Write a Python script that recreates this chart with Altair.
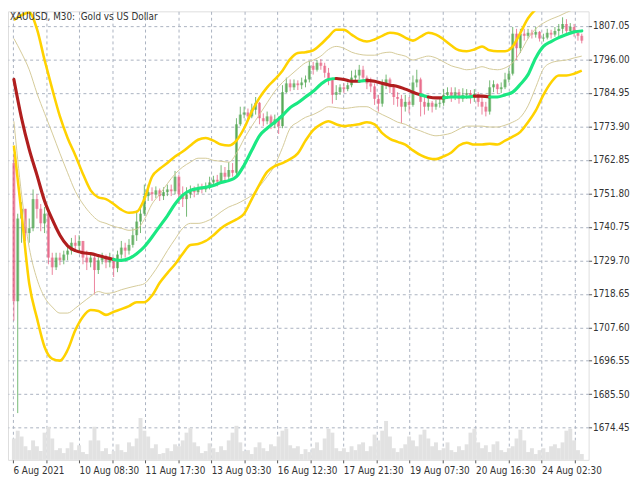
import json
import altair as alt
import pandas as pd

FONT = "'Liberation Sans Narrow', 'DejaVu Sans Condensed', 'Liberation Sans', sans-serif"
SYMBOL_TITLE = "XAUUSD, M30:\u00a0 Gold vs US Dollar"

# ---- candles (each drawn candle = 4 M30 bars), prices in USD ----
first_open = 1761.8
close = [1716.2, 1743.5, 1746.7, 1738.7, 1740.3, 1749.9, 1746.7, 1741.9, 1745.1, 1730.6,
         1727.4, 1730.6, 1729.7, 1731.6, 1732.9, 1735.5, 1734.5, 1736.1, 1730.6, 1729.0,
         1730.6, 1726.5, 1729.7, 1730.6, 1729.0, 1730.0, 1727.1, 1731.6, 1733.9, 1732.9,
         1734.8, 1738.0, 1742.5, 1745.1, 1750.9, 1752.2, 1751.5, 1752.8, 1750.9, 1752.2,
         1753.1, 1752.5, 1757.3, 1751.5, 1749.9, 1751.5, 1752.8, 1752.2, 1753.8, 1753.1,
         1754.1, 1755.4, 1756.3, 1755.7, 1758.6, 1757.3, 1759.5, 1758.6, 1774.6, 1777.8,
         1778.5, 1777.2, 1779.4, 1781.7, 1776.6, 1775.6, 1777.2, 1774.6, 1776.2, 1774.0,
         1785.2, 1788.1, 1786.8, 1788.1, 1787.5, 1788.4, 1789.4, 1793.9, 1792.6, 1794.9,
         1793.9, 1791.6, 1789.4, 1784.3, 1785.2, 1786.8, 1786.2, 1787.5, 1790.0, 1790.7,
         1792.6, 1790.0, 1788.1, 1787.1, 1783.0, 1781.4, 1787.5, 1789.4, 1786.8, 1783.6,
         1783.0, 1780.4, 1782.0, 1781.0, 1788.4, 1789.4, 1782.0, 1780.4, 1781.7, 1780.4,
         1781.4, 1781.7, 1784.3, 1785.2, 1783.6, 1785.2, 1783.0, 1784.3, 1784.9, 1783.6,
         1784.6, 1782.0, 1780.4, 1778.8, 1786.8, 1787.8, 1786.2, 1786.8, 1789.4, 1791.3,
         1804.5, 1799.7, 1804.5, 1803.8, 1804.8, 1804.2, 1805.1, 1802.9, 1803.2, 1804.8,
         1804.2, 1805.4, 1806.1, 1807.7, 1805.4, 1806.7, 1804.8, 1803.8, 1802.2]
high = [1764.4, 1745.1, 1748.9, 1746.7, 1743.5, 1753.1, 1751.5, 1748.3, 1747.3, 1745.7,
        1732.2, 1732.2, 1732.2, 1732.9, 1734.5, 1737.1, 1738.0, 1738.0, 1736.1, 1732.9,
        1732.2, 1731.6, 1731.6, 1732.2, 1731.6, 1732.2, 1730.6, 1732.9, 1736.1, 1735.5,
        1736.7, 1740.3, 1746.1, 1746.7, 1754.7, 1754.7, 1753.8, 1754.1, 1753.4, 1753.8,
        1754.7, 1754.7, 1759.2, 1757.9, 1754.1, 1753.8, 1754.4, 1754.1, 1755.0, 1755.0,
        1755.4, 1757.3, 1757.6, 1757.9, 1761.1, 1760.5, 1762.1, 1761.8, 1776.6, 1780.4,
        1780.4, 1779.8, 1781.4, 1783.6, 1782.0, 1778.2, 1778.8, 1777.8, 1777.8, 1777.2,
        1787.5, 1790.0, 1789.4, 1789.4, 1789.1, 1790.0, 1790.7, 1795.5, 1795.2, 1795.8,
        1796.1, 1794.9, 1793.2, 1790.0, 1787.5, 1787.8, 1788.1, 1788.4, 1792.3, 1792.6,
        1794.2, 1793.9, 1790.7, 1790.0, 1788.1, 1784.3, 1789.4, 1791.0, 1790.0, 1787.5,
        1785.2, 1784.3, 1784.3, 1783.6, 1790.7, 1792.6, 1790.0, 1783.6, 1783.0, 1782.3,
        1782.6, 1783.0, 1786.2, 1786.8, 1786.8, 1786.8, 1786.2, 1786.5, 1786.2, 1785.9,
        1786.2, 1785.2, 1783.6, 1782.0, 1789.1, 1789.1, 1788.1, 1788.4, 1791.6, 1793.2,
        1806.7, 1806.1, 1806.1, 1806.1, 1806.1, 1805.8, 1806.7, 1805.4, 1804.5, 1806.1,
        1805.8, 1806.7, 1807.7, 1809.9, 1809.3, 1808.0, 1807.7, 1805.4, 1804.5]
low = [1709.8, 1679.3, 1735.5, 1736.1, 1735.5, 1739.3, 1743.5, 1739.3, 1738.7, 1728.4,
       1724.9, 1726.5, 1728.1, 1728.4, 1729.7, 1731.6, 1732.9, 1732.2, 1728.4, 1726.5,
       1727.4, 1718.4, 1725.2, 1728.4, 1727.1, 1727.4, 1724.2, 1725.8, 1730.3, 1730.6,
       1731.6, 1733.9, 1736.1, 1738.7, 1744.4, 1749.3, 1749.3, 1750.2, 1749.3, 1749.6,
       1750.9, 1750.9, 1751.5, 1748.3, 1747.3, 1744.1, 1750.2, 1750.5, 1751.5, 1751.8,
       1752.2, 1753.1, 1754.4, 1754.1, 1755.4, 1755.4, 1756.3, 1757.3, 1757.9, 1774.0,
       1776.6, 1775.9, 1776.6, 1777.8, 1774.6, 1774.0, 1774.6, 1773.0, 1773.3, 1771.4,
       1773.3, 1784.9, 1785.5, 1785.9, 1785.9, 1786.2, 1786.8, 1788.4, 1791.0, 1792.0,
       1792.6, 1790.0, 1787.5, 1781.4, 1782.6, 1784.3, 1784.9, 1785.5, 1786.8, 1788.8,
       1789.4, 1788.8, 1786.2, 1785.2, 1781.0, 1778.8, 1780.4, 1786.2, 1784.9, 1781.0,
       1780.4, 1774.9, 1778.8, 1778.2, 1780.4, 1786.8, 1777.2, 1777.8, 1779.1, 1778.5,
       1779.4, 1780.1, 1780.7, 1783.0, 1782.0, 1782.6, 1781.4, 1782.0, 1783.0, 1781.4,
       1782.0, 1780.4, 1777.8, 1777.2, 1777.8, 1785.2, 1784.6, 1784.9, 1786.2, 1788.4,
       1790.7, 1795.8, 1798.1, 1802.2, 1802.9, 1802.9, 1803.2, 1801.9, 1801.9, 1802.6,
       1802.9, 1803.5, 1803.5, 1804.5, 1804.2, 1804.8, 1803.5, 1802.2, 1801.3]
# tick volume, hundreds of ticks
volume = [22, 30, 24, 14, 10, 20, 14, 9, 28, 34,
          22, 10, 12, 7, 12, 18, 10, 15, 8, 6,
          20, 34, 20, 9, 12, 6, 9, 16, 10, 8,
          18, 14, 22, 43, 30, 24, 12, 16, 6, 7,
          12, 9, 16, 14, 20, 28, 33, 18, 14, 7,
          9, 17, 12, 8, 14, 10, 20, 28, 35, 18,
          9, 10, 6, 13, 18, 12, 9, 16, 14, 24,
          30, 32, 15, 12, 14, 6, 11, 8, 12, 18,
          10, 22, 32, 28, 12, 9, 12, 8, 14, 10,
          16, 18, 9, 14, 26, 20, 30, 40, 24, 12,
          8, 12, 16, 24, 20, 14, 26, 31, 22, 14,
          18, 10, 12, 18, 10, 8, 14, 10, 16, 28,
          32, 18, 12, 15, 8, 16, 19, 10, 8, 12,
          14, 22, 31, 20, 8, 12, 6, 10, 12, 8,
          14, 16, 12, 18, 30, 32, 20, 10, 6]

# ---- indicator samples (every 2nd drawn candle) ----
band_bar = list(range(0, 149, 2))
ma = [1789.4, 1776.6, 1766.3, 1757.9, 1749.3, 1743.2, 1738.0, 1734.5, 1732.9, 1732.2,
      1731.9, 1731.3, 1730.6, 1730.0, 1729.7, 1730.3, 1731.9, 1734.2, 1737.4, 1740.9,
      1744.4, 1748.3, 1751.2, 1752.8, 1753.4, 1753.8, 1754.4, 1755.4, 1756.0, 1757.3,
      1761.1, 1766.0, 1770.8, 1773.3, 1775.3, 1777.5, 1780.1, 1781.7, 1783.6, 1785.5,
      1787.8, 1789.4, 1789.7, 1789.4, 1788.8, 1788.8, 1789.1, 1788.8, 1788.1, 1787.5,
      1787.1, 1786.2, 1785.2, 1784.3, 1783.6, 1783.3, 1783.3, 1783.6, 1783.6, 1783.6,
      1783.9, 1783.9, 1783.6, 1783.6, 1784.3, 1785.2, 1787.8, 1791.0, 1796.5, 1800.3,
      1801.9, 1803.2, 1804.2, 1805.1, 1805.4]
ma_colour = ("RRRRRRRRRRRRR" "GGGGGGGGGGGGGGGGGGGGGGGGGGGGG" "RRR" "G" "RRRRRRR"
             "G" "RR" "GGGG" "RR" "GGGGGGGGGGGGG")
upper_outer = [1809.0, 1810.6, 1811.5, 1806.1, 1795.8, 1786.2, 1777.2, 1770.1, 1764.4, 1758.2,
               1752.8, 1750.5, 1749.9, 1748.3, 1746.4, 1745.4, 1745.7, 1749.9, 1757.3, 1759.9,
               1761.8, 1764.0, 1765.6, 1767.6, 1769.5, 1770.1, 1769.2, 1767.9, 1767.6, 1769.2,
               1773.3, 1778.8, 1783.3, 1786.8, 1789.4, 1792.3, 1796.1, 1798.1, 1798.4, 1799.0,
               1801.0, 1803.5, 1805.8, 1805.8, 1804.2, 1802.6, 1801.9, 1802.6, 1803.8, 1804.8,
               1804.5, 1803.2, 1802.2, 1803.5, 1804.8, 1804.2, 1802.6, 1800.6, 1799.0, 1798.7,
               1799.3, 1800.3, 1799.0, 1798.7, 1798.7, 1800.3, 1804.8, 1809.6, 1812.5, 1814.4,
               1815.7, 1816.4, 1816.7, 1816.7, 1816.7]
upper_inner = [1802.9, 1798.1, 1792.6, 1784.9, 1778.2, 1771.7, 1765.0, 1758.6, 1752.5, 1748.3,
               1745.1, 1742.8, 1741.9, 1740.9, 1740.3, 1739.6, 1740.0, 1743.2, 1748.3, 1751.5,
               1755.0, 1758.2, 1760.5, 1762.1, 1763.4, 1763.4, 1762.7, 1762.4, 1762.1, 1765.0,
               1769.8, 1774.0, 1777.8, 1781.7, 1785.5, 1788.4, 1790.7, 1792.9, 1794.9, 1795.8,
               1797.1, 1799.3, 1800.3, 1799.7, 1798.4, 1797.7, 1797.4, 1797.4, 1798.1, 1798.4,
               1797.7, 1797.1, 1795.8, 1796.5, 1797.1, 1796.5, 1795.2, 1793.9, 1793.2, 1792.6,
               1792.9, 1793.6, 1792.9, 1792.6, 1793.2, 1794.9, 1798.4, 1802.9, 1806.1, 1808.0,
               1809.3, 1810.3, 1811.5, 1812.5, 1813.1]
lower_inner = [1775.6, 1751.5, 1733.9, 1723.6, 1717.5, 1714.3, 1712.3, 1712.3, 1713.9, 1715.9,
               1717.8, 1719.4, 1718.8, 1719.1, 1720.0, 1720.7, 1721.3, 1722.0, 1724.9, 1728.7,
               1732.9, 1736.7, 1740.3, 1741.9, 1741.9, 1742.5, 1743.8, 1745.7, 1747.3, 1748.3,
               1749.6, 1751.2, 1754.1, 1757.3, 1761.1, 1766.9, 1773.3, 1775.3, 1776.9, 1777.8,
               1779.1, 1780.4, 1780.1, 1779.8, 1780.1, 1780.4, 1780.4, 1779.1, 1777.8, 1776.6,
               1775.3, 1774.6, 1773.3, 1772.4, 1771.4, 1770.8, 1771.1, 1771.7, 1773.0, 1774.0,
               1774.0, 1774.0, 1773.7, 1773.7, 1774.3, 1775.3, 1776.9, 1780.7, 1786.8, 1792.9,
               1794.9, 1795.5, 1795.8, 1796.5, 1797.1]
lower_outer = [1767.6, 1745.1, 1722.0, 1710.7, 1701.1, 1697.2, 1696.6, 1700.1, 1706.6, 1711.1,
               1713.3, 1713.0, 1711.7, 1712.7, 1713.6, 1714.6, 1715.9, 1715.9, 1718.1, 1722.3,
               1725.5, 1728.4, 1731.9, 1734.8, 1735.1, 1736.1, 1738.0, 1740.3, 1741.9, 1743.2,
               1745.1, 1749.9, 1754.7, 1758.9, 1760.8, 1761.8, 1763.1, 1765.0, 1769.2, 1772.7,
               1774.6, 1775.6, 1774.6, 1774.0, 1774.3, 1774.6, 1775.3, 1774.6, 1771.7, 1769.8,
               1768.8, 1767.9, 1766.0, 1764.4, 1763.4, 1763.1, 1764.0, 1765.3, 1767.6, 1768.5,
               1767.9, 1767.9, 1768.2, 1767.9, 1769.2, 1770.5, 1772.1, 1775.3, 1779.1, 1784.3,
               1788.4, 1790.7, 1790.7, 1791.3, 1792.3]

# ---- axes ----
price_ticks = [1674.45, 1685.50, 1696.55, 1707.60, 1718.65, 1729.70, 1740.75, 1751.80,
               1762.85, 1773.90, 1784.95, 1796.00, 1807.05]
time_tick_bars = [-0.25, 8.36, 16.97, 25.58, 34.2, 42.81, 51.42, 60.03, 68.64, 77.25,
                  85.86, 94.48, 103.09, 111.7, 120.31, 128.92, 137.53, 146.15]
time_tick_labels = ["6 Aug 2021", "", "10 Aug 08:30", "", "11 Aug 17:30", "", "13 Aug 03:30", "",
                    "16 Aug 12:30", "", "17 Aug 21:30", "", "19 Aug 07:30", "", "20 Aug 16:30", "",
                    "24 Aug 02:30", ""]

n = len(close)
assert len(high) == n and len(low) == n and len(volume) == n
for arr in (ma, upper_outer, upper_inner, lower_inner, lower_outer):
    assert len(arr) == len(band_bar)
assert len(ma_colour) == len(band_bar)

opens = [first_open] + close[:-1]
candles = pd.DataFrame({
    "bar": list(range(n)), "open": opens, "close": close, "high": high, "low": low,
    "volume": volume,
    "dir": ["up" if c >= o else "down" for o, c in zip(opens, close)],
})

bands = pd.concat([
    pd.DataFrame({"bar": band_bar, "value": upper_outer, "band": "upper_outer", "kind": "outer"}),
    pd.DataFrame({"bar": band_bar, "value": lower_outer, "band": "lower_outer", "kind": "outer"}),
    pd.DataFrame({"bar": band_bar, "value": upper_inner, "band": "upper_inner", "kind": "inner"}),
    pd.DataFrame({"bar": band_bar, "value": lower_inner, "band": "lower_inner", "kind": "inner"}),
])

# colour-changing moving average: split into runs, each run sharing its end point
rows = []
start = 0
run = 0
for k in range(1, len(band_bar) + 1):
    if k == len(band_bar) or ma_colour[k] != ma_colour[start]:
        end = min(k, len(band_bar) - 1)
        for j in range(start, end + 1):
            rows.append({"bar": band_bar[j], "value": ma[j], "seg": run,
                         "dir": "rise" if ma_colour[start] == "G" else "fall"})
        run += 1
        start = k
ma_df = pd.DataFrame(rows)

title_df = pd.DataFrame({"label": [SYMBOL_TITLE]})

# ---- scales / axes ----
xscale = alt.Scale(domain=[-0.25, 148.5], nice=False, zero=False)
yscale = alt.Scale(domain=[1663.85, 1811.87], nice=False, zero=False)
label_expr = ("(" + json.dumps(time_tick_labels) + ")[indexof(" + json.dumps(time_tick_bars)
              + ", datum.value)] || ''")
xaxis = alt.Axis(values=time_tick_bars, labelExpr=label_expr, title=None, grid=True,
                 gridColor="#aab2c0", gridDash=[3, 3], gridWidth=1, domain=False,
                 tickSize=3, tickColor="#555555", labelAlign="left", labelPadding=3,
                 labelFlush=False, labelOverlap=False, labelFont=FONT, labelFontSize=10,
                 labelColor="#333333")
yaxis = alt.Axis(values=price_ticks, format=".2f", orient="right", title=None, grid=True,
                 gridColor="#aab2c0", gridDash=[3, 3], gridWidth=1, domain=False,
                 tickSize=3, tickColor="#555555", labelPadding=1, labelOverlap=False,
                 labelFont=FONT, labelFontSize=10, labelColor="#333333", labelBaseline="middle")

colour = alt.Color("dir:N", legend=None,
                   scale=alt.Scale(domain=["up", "down", "fall", "rise"],
                                   range=["#45a045", "#e5587c", "#b01e1e", "#1ae882"]))


def X(field):
    return alt.X(f"{field}:Q", scale=xscale, axis=xaxis)


def Y(field):
    return alt.Y(f"{field}:Q", scale=yscale, axis=yaxis)


vol = alt.Chart(candles).mark_bar(size=4, color="#e2e2e2").encode(
    x=X("bar"),
    y=alt.Y("volume:Q", scale=alt.Scale(domain=[0, 461], nice=False), axis=None),
)

wicks = alt.Chart(candles).mark_rule(strokeWidth=1, opacity=0.75).encode(
    x=X("bar"), y=Y("low"), y2="high", color=colour)
bodies = alt.Chart(candles).mark_bar(size=3, opacity=0.62).encode(
    x=X("bar"), y=Y("open"), y2="close", color=colour)

inner = alt.Chart(bands).transform_filter(alt.datum.kind == "inner").mark_line(
    clip=True, strokeWidth=1, color="#d4ca98", interpolate="monotone").encode(
    x=X("bar"), y=Y("value"), detail="band:N")
outer = alt.Chart(bands).transform_filter(alt.datum.kind == "outer").mark_line(
    clip=True, strokeWidth=2.6, color="#ffd200", interpolate="monotone").encode(
    x=X("bar"), y=Y("value"), detail="band:N")
ma_line = alt.Chart(ma_df).mark_line(clip=True, strokeWidth=3.2, interpolate="monotone",
                                     strokeCap="round").encode(
    x=X("bar"), y=Y("value"), detail="seg:N", color=colour)

title = alt.Chart(title_df).mark_text(align="left", baseline="top", font=FONT, fontSize=10,
                                      color="#333333").encode(
    x=alt.value(2), y=alt.value(1), text="label:N")

price = alt.layer(wicks, bodies, inner, outer, ma_line, title)

chart = alt.layer(vol, price).resolve_scale(y="independent").properties(
    width=589, height=455, padding={"left": 0, "top": 0, "right": 2, "bottom": 0}
).configure_view(stroke="#666666", strokeWidth=1).configure(background="white")

chart.save("out.html", embed_options={"renderer": "svg", "actions": False})
